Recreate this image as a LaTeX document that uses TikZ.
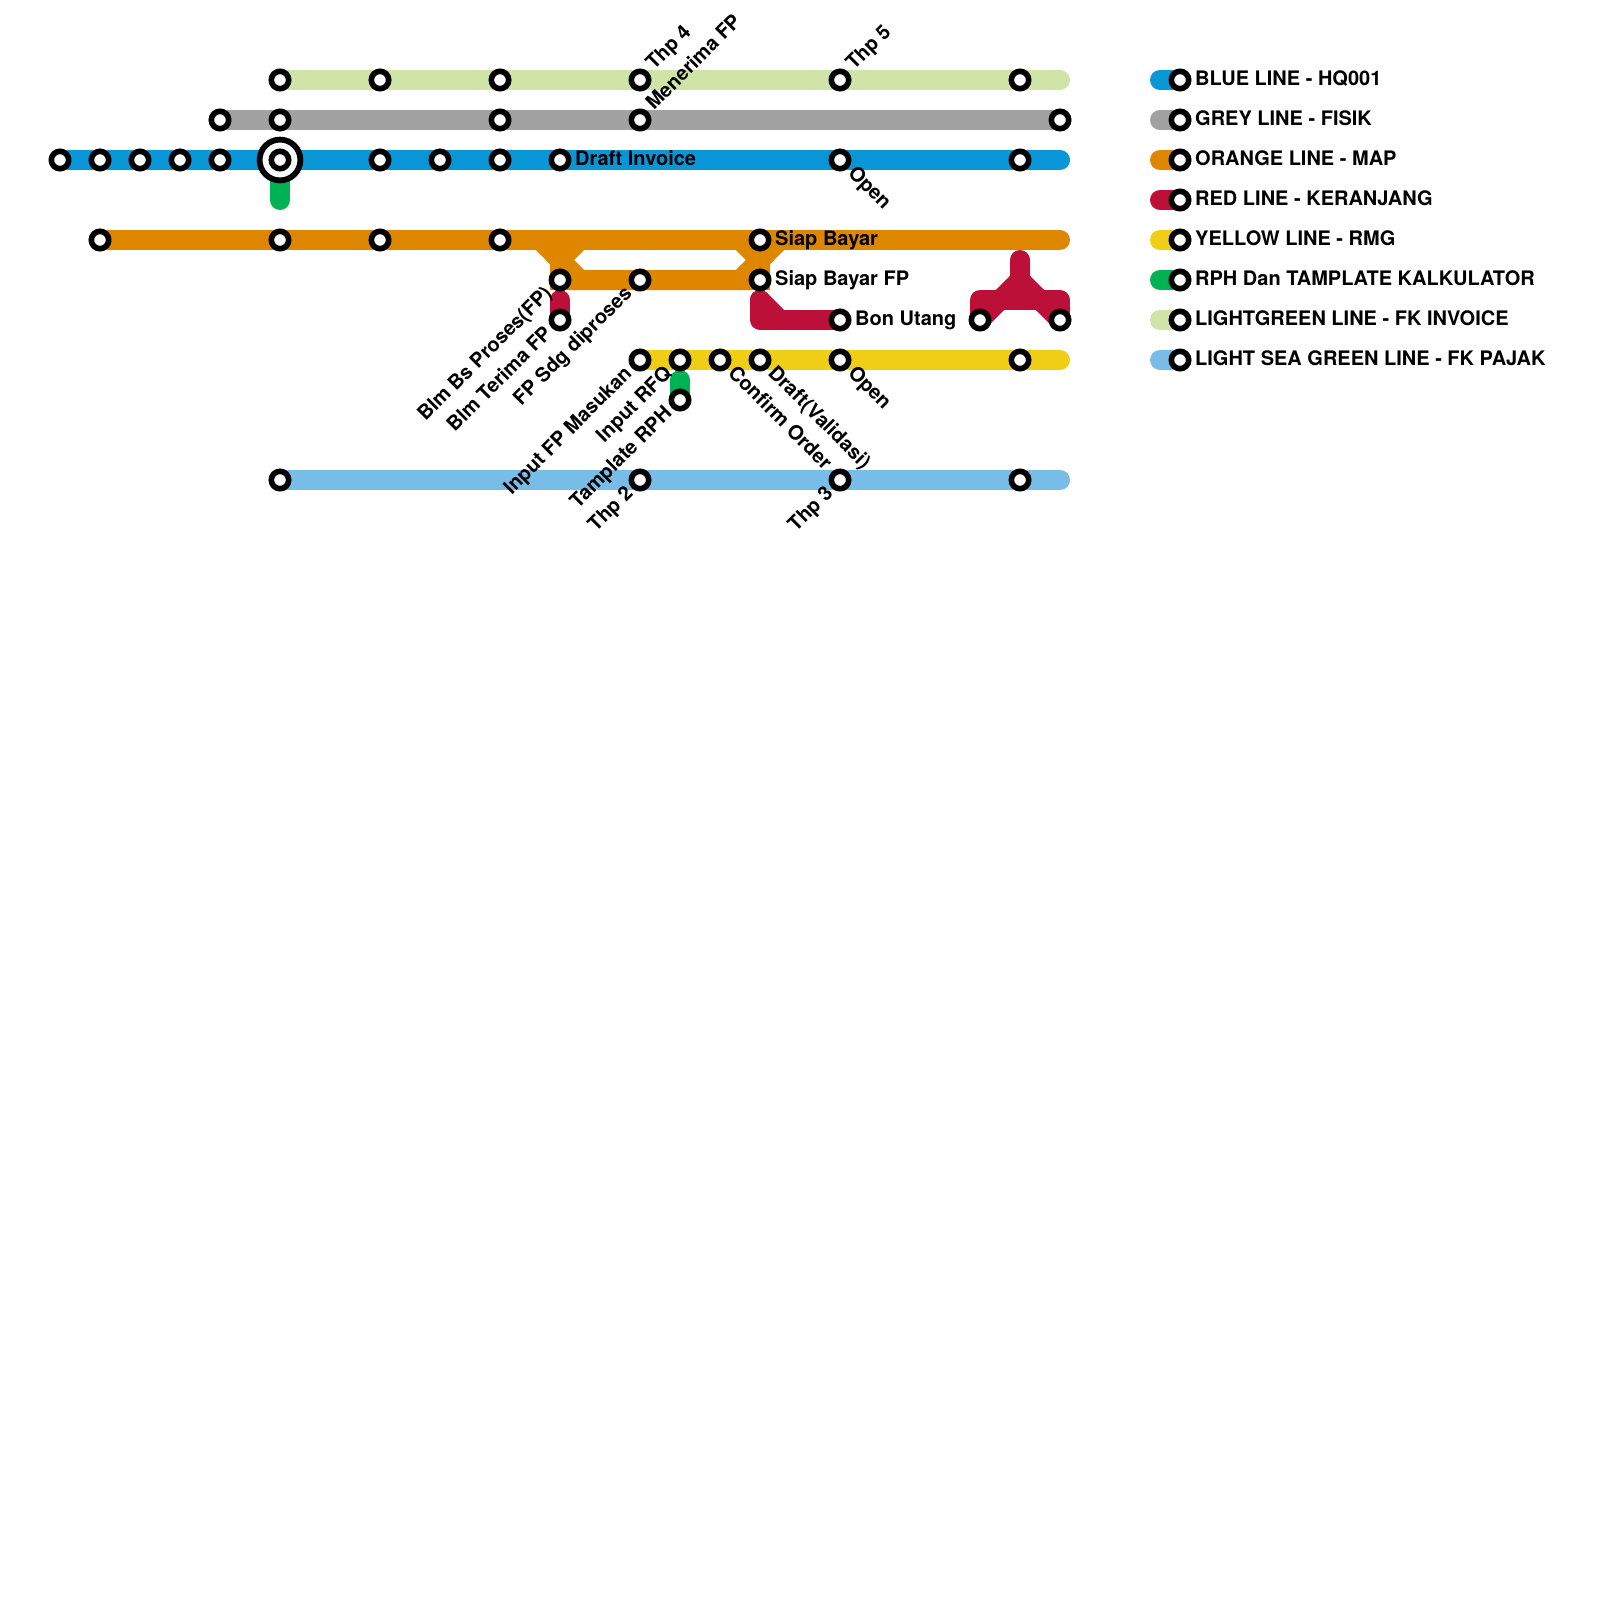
\documentclass[tikz,border=0pt]{standalone}
\usepackage{fontspec}
\setmainfont{TeX Gyre Heros}
\usetikzlibrary{backgrounds}
\definecolor{cblue}{HTML}{0896D7}
\definecolor{cgrey}{HTML}{A1A1A1}
\definecolor{corange}{HTML}{DF8600}
\definecolor{cred}{HTML}{BD1038}
\definecolor{cyellow}{HTML}{F0CE15}
\definecolor{cgreen}{HTML}{00B251}
\definecolor{clgreen}{HTML}{CFE4A7}
\definecolor{csky}{HTML}{78BDE8}
\tikzset{
  x=1pt,y=-1pt,
  station/.style={circle,draw=black,fill=white,line width=5.6pt,minimum size=17.4pt,inner sep=0pt},
  hub/.style={circle,draw=black,fill=white,line width=5.8pt,minimum size=40.8pt,inner sep=0pt},
  metro/.style={line width=20pt,line cap=round,line join=round},
  sharp/.style={line width=20pt,line cap=butt,line join=miter},
  txt/.style={font=\bfseries\fontsize{20}{20}\selectfont,inner sep=0pt,text=black},
  lblE/.style={txt,anchor=base west},
  lblUp/.style={txt,anchor=base west,rotate=45},
  lblDn/.style={txt,anchor=base west,rotate=-45},
  lblEnd/.style={txt,anchor=base east,rotate=45},
}
\begin{document}
\begin{tikzpicture}
\useasboundingbox (0,0) rectangle (1600,1600);
\begin{scope}[on background layer]
\fill[white] (0,0) rectangle (1600,1600);
\end{scope}
% hub under its station
\node[hub] (hub) at (280,160) {};
% stations
\foreach \n/\x/\y in {
 g1/280/80,g2/380/80,g3/500/80,g4/640/80,g5/840/80,g6/1020/80,
 k1/220/120,k2/280/120,k3/500/120,k4/640/120,k5/1060/120,
 b1/60/160,b2/100/160,b3/140/160,b4/180/160,b5/220/160,b6/280/160,b7/380/160,b8/440/160,b9/500/160,b10/560/160,b11/840/160,b12/1020/160,
 o1/100/240,o2/280/240,o3/380/240,o4/500/240,o5/760/240,
 o6/560/280,o7/640/280,o8/760/280,
 r1/560/320,r2/840/320,r3/980/320,r4/1060/320,
 y1/640/360,y2/680/360,y3/720/360,y4/760/360,y5/840/360,y6/1020/360,
 t1/680/400,
 s1/280/480,s2/640/480,s3/840/480,s4/1020/480,
 L1/1180/80,L2/1180/120,L3/1180/160,L4/1180/200,L5/1180/240,L6/1180/280,L7/1180/320,L8/1180/360}
 {\node[station] (\n) at (\x,\y) {};}
% free ends and bends
\foreach \n/\x/\y in {
 ge/1060/80,be/1060/160,oe/1060/240,ye/1060/360,se/1060/480,
 ga/280/200,gb/280/180,gc/680/380,
 oa/540/240,ob/560/260,oc/580/240,od/580/280,oo/760/260,op/780/240,oq/740/240,or/740/280,oz/560/280,oy/760/280,
 ra/760/300,rb/760/320,rc/780/320,rd/560/300,
 re/1020/260,rf/1020/280,rg/980/300,rh/1060/300,
 e1/1160/80,e2/1160/120,e3/1160/160,e4/1160/200,e5/1160/240,e6/1160/280,e7/1160/320,e8/1160/360}
 {\coordinate (\n) at (\x,\y);}
\begin{scope}[on background layer]
\draw[metro,color=clgreen] (g1.center)--(ge);
\draw[metro,color=cgrey] (k1.center)--(k5.center);
\draw[metro,color=cgreen] (gb)--(ga);
\draw[metro,color=cblue] (b1.center)--(be);
\draw[metro,color=corange] (o1.center)--(oe);
\draw[sharp,color=corange] (oa)--(ob)--(oz)--(oy)--(oo)--(op);
\draw[sharp,color=corange] (oc)--(ob)--(od);
\draw[sharp,color=corange] (oq)--(oo)--(or);
\draw[metro,color=cred] (rd)--(r1.center);
\draw[metro,color=cred] (ra)--(rb)--(r2.center);
\draw[metro,color=cred] (ra)--(rc);
\draw[metro,color=cred] (re)--(rf)--(r3.center);
\draw[metro,color=cred] (rf)--(r4.center);
\draw[metro,color=cred] (r3.center)--(rg)--(rh)--(r4.center);
\draw[metro,color=cyellow] (y1.center)--(ye);
\draw[metro,color=cgreen] (gc)--(t1.center);
\draw[metro,color=csky] (s1.center)--(se);
\draw[metro,color=cblue] (e1)--(L1.center);
\draw[metro,color=cgrey] (e2)--(L2.center);
\draw[metro,color=corange] (e3)--(L3.center);
\draw[metro,color=cred] (e4)--(L4.center);
\draw[metro,color=cyellow] (e5)--(L5.center);
\draw[metro,color=cgreen] (e6)--(L6.center);
\draw[metro,color=clgreen] (e7)--(L7.center);
\draw[metro,color=csky] (e8)--(L8.center);
\end{scope}
% labels
\node[lblE] (tDI) at (575,165.3) {Draft Invoice};
\node[lblE] (tSB) at (775,245.3) {Siap Bayar};
\node[lblE] (tSF) at (775,285.3) {Siap Bayar FP};
\node[lblE] (tBU) at (855,325.3) {Bon Utang};
\node[lblUp] (tT4) at (654,71) {Thp 4};
\node[lblUp] (tMF) at (654,111) {Menerima FP};
\node[lblUp] (tT5) at (854,71) {Thp 5};
\node[lblDn] (tO1) at (847,174) {Open};
\node[lblDn] (tO2) at (847,374) {Open};
\node[lblDn] (tDV) at (767,374) {Draft(Validasi)};
\node[lblDn] (tCO) at (727,374) {Confirm Order};
\node[lblEnd] (tBP) at (553,294.5) {Blm Bs Proses(FP)};
\node[lblEnd] (tBT) at (553,334.5) {Blm Terima FP};
\node[lblEnd] (tFS) at (633,294.5) {FP Sdg diproses};
\node[lblEnd] (tIM) at (633,374.5) {Input FP Masukan};
\node[lblEnd] (tIR) at (673,374.5) {Input RFQ};
\node[lblEnd] (tTR) at (673,414.5) {Tamplate RPH};
\node[lblEnd] (tT2) at (634,494.5) {Thp 2};
\node[lblEnd] (tT3) at (834,494.5) {Thp 3};
% legend
\node[lblE] (l1) at (1195,85.3) {BLUE LINE - HQ001};
\node[lblE] (l2) at (1195,125.3) {GREY LINE - FISIK};
\node[lblE] (l3) at (1195,165.3) {ORANGE LINE - MAP};
\node[lblE] (l4) at (1195,205.3) {RED LINE - KERANJANG};
\node[lblE] (l5) at (1195,245.3) {YELLOW LINE - RMG};
\node[lblE] (l6) at (1195,285.3) {RPH Dan TAMPLATE KALKULATOR};
\node[lblE] (l7) at (1195,325.3) {LIGHTGREEN LINE - FK INVOICE};
\node[lblE] (l8) at (1195,365.3) {LIGHT SEA GREEN LINE - FK PAJAK};
\end{tikzpicture}
\end{document}
